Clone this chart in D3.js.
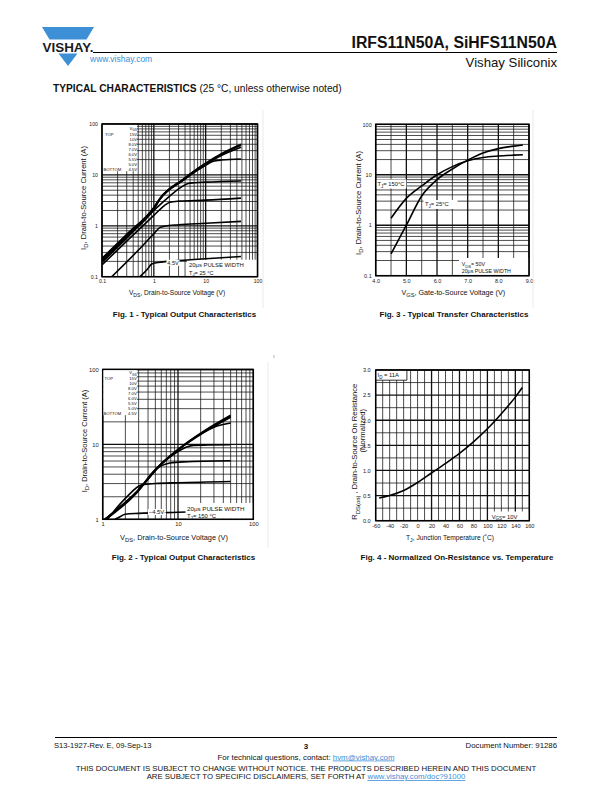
<!DOCTYPE html>
<html>
<head>
<meta charset="utf-8">
<script src="https://cdn.jsdelivr.net/npm/d3@7/dist/d3.min.js"></script>
<style>
body{margin:0;background:#fff;}
svg{display:block;}
</style>
</head>
<body>
<script>
// ---------- data ----------

// Fig. 1 - output characteristics, TJ = 25 C  (VDS [V], ID [A])
var fig1Legend = ["15V","10V","8.0V","7.0V","6.0V","5.5V","5.0V","4.5V"];
var fig1Curves = [
  [[0.1,0.23],[0.3,0.68],[1,2.3],[1.32,3.5],[3.7,8.3],[6.7,13],[10,17],[20,26],[48,40]],
  [[0.1,0.22],[0.3,0.66],[1,2.25],[1.32,3.45],[3.7,8.1],[6.7,12.7],[10,16.5],[20,25],[48,38]],
  [[0.1,0.21],[0.3,0.63],[1,2.2],[1.32,3.4],[3.7,8.0],[6.7,12.5],[10,16],[20,24],[48,35]],
  [[0.1,0.2],[0.3,0.6],[1,2.1],[1.32,3.3],[3.7,7.8],[6.7,12],[10,15.5],[14,18.5],[20,19.6],[48,20.5]],
  [[0.1,0.19],[0.3,0.57],[1,2.0],[2,3.8],[3.5,5.9],[4.6,6.8],[6,7.0],[10,7.2],[48,7.6]],
  [[0.1,0.17],[0.3,0.5],[1,1.6],[1.6,2.5],[2.05,2.9],[3,3.05],[10,3.2],[48,3.5]],
  [[0.154,0.1],[0.5,0.33],[1,0.7],[1.32,0.93],[1.6,0.98],[3,1.05],[10,1.12],[48,1.22]],
  [[0.54,0.1],[0.75,0.14],[0.91,0.178],[1.2,0.19],[1.8,0.2],[5,0.215],[10,0.225],[48,0.25]]
];
var fig1XTicks = [0.1,1,10,100], fig1XLabels = ["0.1","1","10","100"];
var fig1YTicks = [0.1,1,10,100], fig1YLabels = ["0.1","1","10","100"];

// Fig. 2 - output characteristics, TJ = 150 C
var fig2Legend = ["15V","10V","8.0V","7.0V","6.0V","5.5V","5.0V","4.5V"];
var fig2Curves = [
  [[1.07,1],[2.83,2.34],[5.77,5.33],[10,8.6],[21.7,14.9],[50,24.5]],
  [[1.07,1],[2.83,2.32],[5.77,5.3],[10,8.5],[21.7,14.6],[50,23.8]],
  [[1.07,1],[2.83,2.31],[5.77,5.28],[10,8.45],[21.7,14.3],[50,23]],
  [[1.07,1],[2.83,2.3],[5.77,5.25],[10,8.4],[20,13.8],[30,17],[50,19.3]],
  [[1.07,1],[2.83,2.3],[5.77,5.2],[10,8.0],[13,9.2],[16,9.7],[25,9.8],[50,9.9]],
  [[1.1,1],[2.83,2.25],[5,4.6],[7.84,5.63],[12,5.85],[50,6.05]],
  [[1.15,1],[2,1.9],[3.3,2.88],[5,3.0],[10,3.08],[50,3.2]],
  [[1.46,1],[1.75,1.1],[1.98,1.17],[3,1.2],[10,1.24],[50,1.3]]
];
var fig2XTicks = [1,10,100], fig2XLabels = ["1","10","100"];
var fig2YTicks = [1,10,100], fig2YLabels = ["1","10","100"];

// Fig. 3 - transfer characteristics (VGS [V], ID [A])
var fig3Vgs   = [4.5,5.0,5.5,6.0,6.5,7.0,7.5,8.0,8.5,8.8];
var fig3Id150 = [1.38,3.4,6.0,10,14.5,19,22,23.5,24.5,25];
var fig3Id25  = [0.27,1.0,3.8,8,13,19.5,27,33,37,39];
var fig3XTicks = [4,5,6,7,8,9], fig3XLabels = ["4.0","5.0","6.0","7.0","8.0","9.0"];
var fig3YTicks = [0.1,1,10,100], fig3YLabels = ["0.1","1","10","100"];

// Fig. 4 - normalized on-resistance vs. temperature
var fig4Temp = [-55,-40,-20,0,20,40,60,80,100,120,140,150];
var fig4Rds  = [0.45,0.5,0.6,0.76,0.95,1.14,1.34,1.57,1.83,2.13,2.46,2.65];
var fig4XTicks = [-60,-40,-20,0,20,40,60,80,100,120,140,160];
var fig4XLabels = ["-60","-40","-20","0","20","40","60","80","100","120","140","160"];
var fig4YTicks = [0,0.5,1,1.5,2,2.5,3];
var fig4YLabels = ["0.0","0.5","1.0","1.5","2.0","2.5","3.0"];

// ---------- page ----------
var FONT = "'Liberation Sans', Arial, Helvetica, sans-serif";
var BLUE = "#3d8fd6";

var svg = d3.select("body").append("svg")
            .attr("width",612)
            .attr("height",792)
            .style("font-family",FONT);

//text with optional subscripts: parts = [[text, "sub"|""], ...]
var rich = function(sel, parts, size){
    var prevSub = false;
    parts.forEach(function(p){
        var t = sel.append("tspan").text(p[0]);
        if(p[1]=="sub"){
            t.attr("font-size", size*0.78);
            if(!prevSub) t.attr("dy", size*0.3);
            prevSub = true;
        } else {
            if(prevSub) t.attr("dy", -size*0.3);
            prevSub = false;
        }
    });
    return sel;
};

var label = function(g, x, y, parts, size, opt){
    opt = opt || {};
    var t = g.append("text")
             .attr("x",x).attr("y",y)
             .attr("font-size",size)
             .attr("fill",opt.fill||"#111")
             .attr("font-weight",opt.bold?"bold":null)
             .attr("text-anchor",opt.anchor||"start");
    if(opt.rotate) t.attr("transform","rotate(-90,"+x+","+y+")");
    if(opt.len) t.attr("textLength",opt.len).attr("lengthAdjust","spacingAndGlyphs");
    if(typeof parts=="string") t.text(parts); else rich(t, parts, size);
    return t;
};

var logGrid = function(lo, hi){
    var out=[];
    for(var d=lo; d<hi*0.99; d*=10){
        for(var k=1;k<10;k++) out.push(+(k*d).toPrecision(6));
    }
    out.push(hi);
    return out;
};
var isDecade = function(d){
    var l=Math.log10(d);
    return Math.abs(l-Math.round(l))<1e-6;
};

var drawPanel=function(p){
    var g = svg.append("g").attr("class",p.id);
    var x=p.x, y=p.y;
    var xl=x.range()[0], xr=x.range()[1], yb=y.range()[0], yt=y.range()[1];

    svg.append("clipPath").attr("id",p.id+"clip")
       .append("rect").attr("x",xl).attr("y",yt).attr("width",xr-xl).attr("height",yb-yt);

    //grid
    g.append("g").selectAll("line").data(p.xGrid).enter().append("line")
        .attr("x1",function(d){return x(d);}).attr("x2",function(d){return x(d);})
        .attr("y1",yt).attr("y2",yb)
        .attr("stroke","#111")
        .attr("stroke-width",function(d){return p.xMajor(d)?1.3:0.75;});
    g.append("g").selectAll("line").data(p.yGrid).enter().append("line")
        .attr("y1",function(d){return y(d);}).attr("y2",function(d){return y(d);})
        .attr("x1",xl).attr("x2",xr)
        .attr("stroke","#111")
        .attr("stroke-width",function(d){return p.yMajor(d)?1.3:0.75;});

    //white areas under legends / notes
    var drawMasks=function(){
        g.append("g").selectAll("rect").data(p.masks||[]).enter().append("rect")
            .attr("x",function(d){return d[0];}).attr("y",function(d){return d[1];})
            .attr("width",function(d){return d[2];}).attr("height",function(d){return d[3];})
            .attr("fill","#fff");
    };
    if(!p.masksOnTop) drawMasks();

    var line=d3.line()
               .x(function(d){return x(d[0]);})
               .y(function(d){return y(d[1]);})
               .curve(d3.curveMonotoneX);
    g.append("g").attr("clip-path","url(#"+p.id+"clip)")
        .selectAll("path").data(p.curves).enter().append("path")
        .attr("d",line)
        .attr("fill","none")
        .attr("stroke","#000")
        .attr("stroke-width",p.curveWidth||1.6)
        .attr("stroke-linejoin","round");

    if(p.masksOnTop) drawMasks();

    //frame
    g.append("rect").attr("x",xl).attr("y",yt).attr("width",xr-xl).attr("height",yb-yt)
        .attr("fill","none").attr("stroke","#000").attr("stroke-width",1.5);

    //tick labels
    var xa=g.append("g").attr("transform","translate(0,"+yb+")")
        .call(d3.axisBottom(x).tickValues(p.xTicks)
              .tickFormat(function(d,i){return p.xLabels[i];})
              .tickSize(0).tickPadding(p.xPad||3));
    var ya=g.append("g").attr("transform","translate("+xl+",0)")
        .call(d3.axisLeft(y).tickValues(p.yTicks)
              .tickFormat(function(d,i){return p.yLabels[i];})
              .tickSize(0).tickPadding(p.yPad||4));
    [xa,ya].forEach(function(a){
        a.select(".domain").remove();
        a.attr("font-family",FONT).attr("font-size",p.tickSize||5.2);
        a.selectAll("text").attr("fill","#222");
    });
    return g;
};

// ---------- header ----------
svg.append("polygon").attr("points","42,27 94,27 86.5,39.5 49.5,39.5").attr("fill",BLUE);
svg.append("polygon").attr("points","58.5,53.5 77.5,53.5 68,66").attr("fill",BLUE);
label(svg,68,51.5,"VISHAY.",13,{bold:true,anchor:"middle",fill:"#1b1b1b",len:51});
svg.append("line").attr("x1",93).attr("x2",557).attr("y1",52.5).attr("y2",52.5)
   .attr("stroke","#000").attr("stroke-width",1);
label(svg,557,47.5,"IRFS11N50A, SiHFS11N50A",15.8,{bold:true,anchor:"end"});
label(svg,557,67,"Vishay Siliconix",13.2,{anchor:"end"});
label(svg,90,62,"www.vishay.com",8.5,{fill:BLUE});
var tc=label(svg,53,91.5,"TYPICAL CHARACTERISTICS",10.2,{bold:true});
tc.append("tspan").attr("font-weight","normal").text(" (25 \u00B0C, unless otherwise noted)");

// ---------- Fig. 1 ----------
var x1=d3.scaleLog().domain([0.1,100]).range([102,257.5]);
var y1=d3.scaleLog().domain([0.1,100]).range([276.7,124]);
var f1=drawPanel({
    id:"fig1", x:x1, y:y1,
    xGrid:logGrid(0.1,100), yGrid:logGrid(0.1,100),
    xMajor:isDecade, yMajor:isDecade,
    curves:fig1Curves,
    masks:[[102.7,124.7,34.3,46.5],[187,259.7,70,16.3]],
    xTicks:fig1XTicks, xLabels:fig1XLabels, yTicks:fig1YTicks, yLabels:fig1YLabels
});
label(f1,137,129.5,[["V",""],["GS","sub"]],4.2,{anchor:"end"});
fig1Legend.forEach(function(v,i){
    label(f1,137,135.5+i*5,v,4.2,{anchor:"end"});
});
label(f1,105,135.5,"TOP",4.2);
label(f1,103.5,170.5,"BOTTOM",4.2);
f1.append("rect").attr("x",166.5).attr("y",259.8).attr("width",13).attr("height",6).attr("fill","#fff");
label(f1,167.3,265.3,"4.5V",5.5);
label(f1,189,266.5,"20\u03BCs PULSE WIDTH",5.9);
label(f1,189,274.5,[["T",""],["J","sub"],["= 25 \u00B0C",""]],5.6);
label(f1,177,295,[["V",""],["DS","sub"],[", Drain-to-Source Voltage (V)",""]],6.6,{anchor:"middle"});
label(f1,85.5,198,[["I",""],["D","sub"],[", Drain-to-Source Current (A)",""]],7.6,{anchor:"middle",rotate:true});
label(svg,184.5,317,"Fig. 1 - Typical Output Characteristics",8,{bold:true,anchor:"middle"});

// ---------- Fig. 3 ----------
var x3=d3.scaleLinear().domain([4,9]).range([375.7,529]);
var y3=d3.scaleLog().domain([0.1,100]).range([275.7,124.3]);
var f3=drawPanel({
    id:"fig3", x:x3, y:y3,
    xGrid:d3.range(4,9.01,0.5), yGrid:logGrid(0.1,100),
    xMajor:function(d){return d%1===0;}, yMajor:isDecade,
    curves:[fig3Vgs.map(function(v,i){return [v,fig3Id150[i]];}),
            fig3Vgs.map(function(v,i){return [v,fig3Id25[i]];})],
    masks:[[376.4,179.5,30,9],[423.5,200,34,9],[459,258,69.5,17]],
    xTicks:fig3XTicks, xLabels:fig3XLabels, yTicks:fig3YTicks, yLabels:fig3YLabels,
    tickSize:5.5
});
label(f3,377.5,186.2,[["T",""],["J","sub"],["= 150\u00B0C",""]],5.8);
label(f3,425,206.3,[["T",""],["J","sub"],["= 25\u00B0C",""]],5.8);
label(f3,461.7,266,[["V",""],["DS","sub"],["= 50V",""]],5.3);
label(f3,461.7,272.8,"20\u03BCs PULSE WIDTH",5.3);
label(f3,453.3,295.2,[["V",""],["GS","sub"],[", Gate-to-Source Voltage (V)",""]],7.2,{anchor:"middle"});
label(f3,360.5,203,[["I",""],["D","sub"],[", Drain-to-Source Current (A)",""]],7.6,{anchor:"middle",rotate:true});
label(svg,454,317,"Fig. 3 - Typical Transfer Characteristics",8,{bold:true,anchor:"middle"});

// ---------- Fig. 2 ----------
var x2=d3.scaleLog().domain([1,100]).range([102.7,253.3]);
var y2=d3.scaleLog().domain([1,100]).range([519.3,369.5]);
var f2=drawPanel({
    id:"fig2", x:x2, y:y2,
    xGrid:logGrid(1,100), yGrid:logGrid(1,100),
    xMajor:isDecade, yMajor:isDecade,
    curves:fig2Curves, masksOnTop:true,
    masks:[[185.5,503,67.2,15.6]],
    xTicks:fig2XTicks, xLabels:fig2XLabels, yTicks:fig2YTicks, yLabels:fig2YLabels,
    tickSize:5.8
});
f2.append("rect").attr("x",103.4).attr("y",370.2).attr("width",33.5).attr("height",45).attr("fill","#fff");
label(f2,136.7,374.3,[["V",""],["GS","sub"]],4.2,{anchor:"end"});
fig2Legend.forEach(function(v,i){
    label(f2,136.7,379.5+i*5,v,4.2,{anchor:"end"});
});
label(f2,104.5,379.5,"TOP",4.2);
label(f2,103.5,414.5,"BOTTOM",4.2);
f2.append("rect").attr("x",148).attr("y",509).attr("width",18).attr("height",6).attr("fill","#fff");
label(f2,149,514,"\u20134.5V\u2013",5.8);
label(f2,187,511.3,"20\u03BCs PULSE WIDTH",6.2);
label(f2,187,518,[["T",""],["J","sub"],["= 150 \u00B0C",""]],5.9);
label(f2,174,540,[["V",""],["DS","sub"],[", Drain-to-Source Voltage (V)",""]],7.4,{anchor:"middle"});
label(f2,86.5,441,[["I",""],["D","sub"],[", Drain-to-Source Current (A)",""]],7.5,{anchor:"middle",rotate:true});
label(svg,183.5,560,"Fig. 2 - Typical Output Characteristics",8,{bold:true,anchor:"middle"});

// ---------- Fig. 4 ----------
var x4=d3.scaleLinear().domain([-60,160]).range([375.7,529.3]);
var y4=d3.scaleLinear().domain([0,3]).range([520.7,370]);
var f4=drawPanel({
    id:"fig4", x:x4, y:y4,
    xGrid:d3.range(-60,161,10), yGrid:d3.range(0,3.01,0.25),
    xMajor:function(d){return d%40===20;}, yMajor:function(d){return Math.abs(d*2-Math.round(d*2))<1e-6;},
    curves:[fig4Temp.map(function(t,i){return [t,fig4Rds[i]];})],
    masks:[[376.4,370.7,30.5,9.5],[489.5,511.5,39.1,8.5]],
    xTicks:fig4XTicks, xLabels:fig4XLabels, yTicks:fig4YTicks, yLabels:fig4YLabels,
    yPad:5, tickSize:5.6
});
f4.append("line").attr("x1",406.9).attr("x2",406.9).attr("y1",370).attr("y2",380.2).attr("stroke","#000").attr("stroke-width",0.8);
f4.append("line").attr("x1",375.7).attr("x2",406.9).attr("y1",380.2).attr("y2",380.2).attr("stroke","#000").attr("stroke-width",0.8);
label(f4,377.5,377.3,[["I",""],["D","sub"],[" = 11A",""]],5.8);
label(f4,491.7,518.7,[["V",""],["GS","sub"],["= 10V",""]],5.8);
label(f4,450,540,[["T",""],["J","sub"],[", Junction Temperature  (\u02DAC)",""]],6.7,{anchor:"middle"});
label(f4,357.5,451.7,[["R",""],["DS(on)","sub"],[" , Drain-to-Source On Resistance",""]],7.6,{anchor:"middle",rotate:true});
label(f4,365.5,430.7,"(Normalized)",7.6,{anchor:"middle",rotate:true});
label(svg,457,560,"Fig. 4 - Normalized On-Resistance vs. Temperature",8,{bold:true,anchor:"middle"});

//faint scan edges
svg.append("line").attr("x1",263).attr("x2",263).attr("y1",110).attr("y2",308).attr("stroke","#e4e4e4").attr("stroke-width",0.8);
svg.append("line").attr("x1",533).attr("x2",533).attr("y1",110).attr("y2",308).attr("stroke","#e4e4e4").attr("stroke-width",0.8);
svg.append("line").attr("x1",268).attr("x2",268).attr("y1",362).attr("y2",548).attr("stroke","#e4e4e4").attr("stroke-width",0.8);
svg.append("line").attr("x1",274).attr("x2",274).attr("y1",355).attr("y2",358).attr("stroke","#888").attr("stroke-width",0.6);

// ---------- footer ----------
svg.append("line").attr("x1",55).attr("x2",557).attr("y1",737.5).attr("y2",737.5)
   .attr("stroke","#000").attr("stroke-width",1.2);
label(svg,54,748,"S13-1927-Rev. E, 09-Sep-13",7.6);
label(svg,306,748.5,"3",8,{bold:true,anchor:"middle"});
label(svg,557,748,"Document Number: 91286",7.8,{anchor:"end"});
var ft=label(svg,306,759.5,"For technical questions, contact: ",7.9,{anchor:"middle"});
ft.append("tspan").attr("fill",BLUE).attr("text-decoration","underline").text("hvm@vishay.com");
label(svg,306,771,"THIS DOCUMENT IS SUBJECT TO CHANGE WITHOUT NOTICE. THE PRODUCTS DESCRIBED HEREIN AND THIS DOCUMENT",7.8,{anchor:"middle"});
var ft2=label(svg,306,779,"ARE SUBJECT TO SPECIFIC DISCLAIMERS, SET FORTH AT ",7.8,{anchor:"middle"});
ft2.append("tspan").attr("fill",BLUE).attr("text-decoration","underline").text("www.vishay.com/doc?91000");
</script>
</body>
</html>
